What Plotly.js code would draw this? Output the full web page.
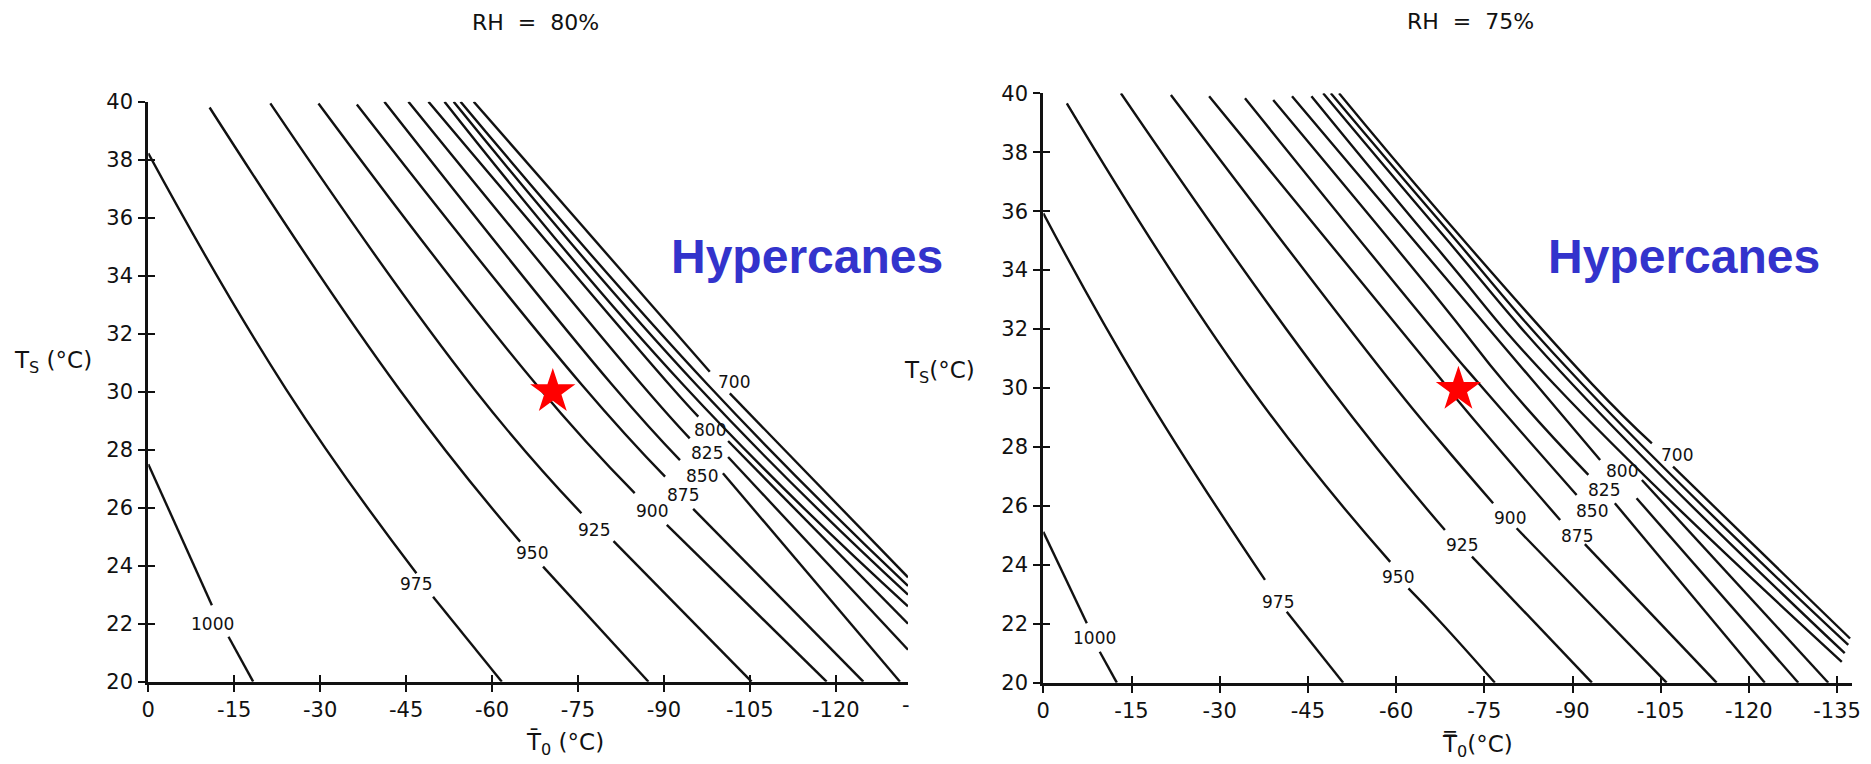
<!DOCTYPE html>
<html>
<head>
<meta charset="utf-8">
<script src="https://cdn.plot.ly/plotly-3.0.1.min.js"></script>
<style>html,body{margin:0;padding:0;background:#fff;}</style>
</head>
<body>
<div id="chart" style="width:1871px;height:764px;"></div>
<script>
// ---------------- data ----------------
// contour levels (hPa)
const levels = ['1000','975','950','925','900','875','850','825','800','775','750','725','700'];

// ---- RH = 80% (left panel): T0 (x, °C) vs Ts (y, °C); null = gap for the label
const x80_1000 = [0, -11.1, null, -14.0, -18.3];
const y80_1000 = [27.5, 22.64, null, 21.55, 20];
const x80_975 = [0, -24.0, -46.8, null, -49.7, -61.7];
const y80_975 = [38.22, 30.1, 23.74, null, 22.93, 20];
const x80_950 = [-10.7, -43.9, -64.9, null, -68.9, -87.3];
const y80_950 = [39.8, 30.06, 24.83, null, 23.97, 20];
const x80_925 = [-21.3, -57.0, -75.6, null, -81.2, -105.3];
const y80_925 = [39.94, 30.06, 25.81, null, 24.85, 20];
const x80_900 = [-29.7, -67.8, -84.9, null, -90.5, -118.4];
const y80_900 = [39.94, 30.23, 26.5, null, 25.41, 20];
const x80_875 = [-36.4, -75.7, -90.2, null, -95.1, -124.8];
const y80_875 = [39.9, 30.23, 27.07, null, 25.96, 20];
const x80_850 = [-41.2, -81.0, -92.8, null, -100.3, -131.2];
const y80_850 = [40, 30.23, 27.64, null, 27.19, 20];
const x80_825 = [-45.4, -86.2, -94.5, null, -101.2, -132.6];
const y80_825 = [40, 30.23, 28.39, null, 27.75, 21.1];
const x80_800 = [-48.9, -91.0, -96.0, null, -101.2, -132.6];
const y80_800 = [40, 30.23, 29.14, null, 28.3, 22.0];
const x80_775 = [-51.7, -93.4, -132.6];
const y80_775 = [40, 30.23, 22.6];
const x80_750 = [-53.3, -95.7, -132.6];
const y80_750 = [40, 30.23, 23.0];
const x80_725 = [-54.5, -97.7, -132.6];
const y80_725 = [40, 30.23, 23.3];
const x80_700 = [-56.8, -98.0, null, -101.5, -132.6];
const y80_700 = [40, 30.69, null, 29.94, 23.6];
// contour label positions, same order as levels (null = unlabelled)
const lab80X = [-11.2, -46.8, -66.9, -77.8, -88.0, -93.4, -96.6, -97.5, -98.0, null, null, null, -102.2];
const lab80Y = [21.99, 23.37, 24.43, 25.23, 25.89, 26.45, 27.1, 27.88, 28.68, null, null, null, 30.32];

// ---- RH = 75% (right panel)
const x75_1000 = [0, -7.4, null, -9.6, -12.5];
const y75_1000 = [25.12, 22.02, null, 21.05, 20];
const x75_975 = [0, -16.4, -37.7, null, -41.4, -51.0];
const y75_975 = [35.93, 30.1, 23.49, null, 22.41, 20];
const x75_950 = [-4.0, -34.9, -59.0, null, -62.1, -67.5, -76.8];
const y75_950 = [39.66, 30.1, 24.1, null, 23.2, 22.07, 20];
const x75_925 = [-13.2, -48.5, -68.3, null, -72.9, -93.3];
const y75_925 = [40, 30.07, 25.18, null, 24.28, 20];
const x75_900 = [-21.7, -59.8, -67.5, -76.5, null, -80.5, -106.0];
const y75_900 = [39.94, 30.04, 28.18, 26.09, null, 25.24, 20];
const x75_875 = [-28.2, -67.5, -70.9, -87.9, null, -92.1, -114.5];
const y75_875 = [39.9, 30.33, 29.48, 25.52, null, 24.7, 20];
const x75_850 = [-34.3, -67.5, -74.3, -90.7, null, -97.2, -122.7];
const y75_850 = [39.83, 31.69, 30.1, 26.37, null, 26.09, 20];
const x75_825 = [-39.1, -67.5, -78.8, -92.7, null, -100.9, -128.4];
const y75_825 = [39.77, 32.93, 30.1, 27.05, null, 26.26, 20];
const x75_800 = [-42.3, -67.5, -83.9, -94.7, null, -101.8, -133.5];
const y75_800 = [39.9, 33.95, 30.1, 27.56, null, 26.88, 20];
const x75_775 = [-45.6, -67.5, -87.0, -135.8];
const y75_775 = [39.9, 34.62, 30.1, 20.71];
const x75_750 = [-47.6, -67.5, -90.1, -136.3];
const y75_750 = [40, 35.3, 30.1, 21.0];
const x75_725 = [-48.9, -67.5, -91.8, -136.9];
const y75_725 = [40, 35.64, 30.1, 21.28];
const x75_700 = [-50.3, -67.5, -93.5, -103.5, null, -107.1, -137.2];
const y75_700 = [40, 35.93, 30.1, 28.12, null, 27.33, 21.5];
const lab75X = [-8.7, -39.9, -60.4, -71.2, -79.4, -90.8, -93.3, -95.4, -98.4, null, null, null, -107.8];
const lab75Y = [21.51, 22.75, 23.58, 24.67, 25.58, 24.98, 25.82, 26.55, 27.2, null, null, null, 27.73];

// red stars
const star80X = [-70.6], star80Y = [30.0];
const star75X = [-70.6], star75Y = [29.95];

// tick labels
const xTickVals = [0, -15, -30, -45, -60, -75, -90, -105, -120, -135];
const xTickText = ['0', '-15', '-30', '-45', '-60', '-75', '-90', '-105', '-120', '-135'];
const yTickVals = [20, 22, 24, 26, 28, 30, 32, 34, 36, 38, 40];
const yTickText = ['20', '22', '24', '26', '28', '30', '32', '34', '36', '38', '40'];

// ---------------- build figure ----------------
const curves80 = {
  '1000': [x80_1000, y80_1000], '975': [x80_975, y80_975], '950': [x80_950, y80_950],
  '925': [x80_925, y80_925], '900': [x80_900, y80_900], '875': [x80_875, y80_875],
  '850': [x80_850, y80_850], '825': [x80_825, y80_825], '800': [x80_800, y80_800],
  '775': [x80_775, y80_775], '750': [x80_750, y80_750], '725': [x80_725, y80_725],
  '700': [x80_700, y80_700]
};
const curves75 = {
  '1000': [x75_1000, y75_1000], '975': [x75_975, y75_975], '950': [x75_950, y75_950],
  '925': [x75_925, y75_925], '900': [x75_900, y75_900], '875': [x75_875, y75_875],
  '850': [x75_850, y75_850], '825': [x75_825, y75_825], '800': [x75_800, y75_800],
  '775': [x75_775, y75_775], '750': [x75_750, y75_750], '725': [x75_725, y75_725],
  '700': [x75_700, y75_700]
};

const INK = '#111111';
const traces = [];
function addCurves(curves, xa, ya) {
  levels.forEach(function (lv) {
    traces.push({
      type: 'scatter', mode: 'lines', x: curves[lv][0], y: curves[lv][1],
      xaxis: xa, yaxis: ya, connectgaps: false, showlegend: false, hoverinfo: 'skip',
      line: { color: INK, width: 2.4, shape: 'spline', smoothing: 1.3 }
    });
  });
}
addCurves(curves80, 'x', 'y');
addCurves(curves75, 'x2', 'y2');

traces.push({ type: 'scatter', mode: 'markers', x: star80X, y: star80Y, xaxis: 'x', yaxis: 'y',
  showlegend: false, cliponaxis: false,
  marker: { symbol: 'star', size: 34, color: '#ff0000', line: { width: 0 } } });
traces.push({ type: 'scatter', mode: 'markers', x: star75X, y: star75Y, xaxis: 'x2', yaxis: 'y2',
  showlegend: false, cliponaxis: false,
  marker: { symbol: 'star', size: 34, color: '#ff0000', line: { width: 0 } } });

// dummy traces so the overlay (inside-tick) axes are drawn
traces.push({ type: 'scatter', mode: 'lines', x: [], y: [], xaxis: 'x3', yaxis: 'y3', showlegend: false });
traces.push({ type: 'scatter', mode: 'lines', x: [], y: [], xaxis: 'x4', yaxis: 'y4', showlegend: false });

const W = 1871, H = 764;
const tickFont = { family: 'DejaVu Sans', size: 21, color: INK };

function xAxis(domain, range, anchor) {
  return {
    domain: domain, range: range, anchor: anchor, showgrid: false, zeroline: false,
    showline: true, linecolor: INK, linewidth: 3,
    ticks: 'outside', ticklen: 7, tickwidth: 2, tickcolor: INK,
    tickmode: 'array', tickvals: xTickVals, ticktext: xTickText,
    tickfont: tickFont, ticklabelstandoff: 0, fixedrange: true
  };
}
function yAxis(domain, anchor) {
  return {
    domain: domain, range: [20, 40], anchor: anchor, showgrid: false, zeroline: false,
    showline: true, linecolor: INK, linewidth: 3,
    ticks: 'outside', ticklen: 7, tickwidth: 2, tickcolor: INK,
    tickmode: 'array', tickvals: yTickVals, ticktext: yTickText,
    tickfont: tickFont, ticklabelstandoff: 1, fixedrange: true
  };
}
function overlayX(base, range, anchor) {
  return { overlaying: base, range: range, anchor: anchor, showgrid: false, zeroline: false,
    showline: false, ticks: 'inside', ticklen: 7, tickwidth: 2, tickcolor: INK,
    tickmode: 'array', tickvals: xTickVals, showticklabels: false, fixedrange: true };
}
function overlayY(base, anchor) {
  return { overlaying: base, range: [20, 40], anchor: anchor, showgrid: false, zeroline: false,
    showline: false, ticks: 'inside', ticklen: 7, tickwidth: 2, tickcolor: INK,
    tickmode: 'array', tickvals: yTickVals, showticklabels: false, fixedrange: true };
}

const range80 = [0, -132.6];
const range75 = [0, -137.5];

const annotations = [];
function addLabels(lx, ly, xr, yr) {
  levels.forEach(function (lv, i) {
    if (lx[i] === null) return;
    annotations.push({ x: lx[i], y: ly[i], xref: xr, yref: yr, text: lv, showarrow: false,
      borderpad: 0, font: { family: 'DejaVu Sans', size: 17, color: INK } });
  });
}
addLabels(lab80X, lab80Y, 'x', 'y');
addLabels(lab75X, lab75Y, 'x2', 'y2');

function paperText(px, py, text, font, xanchor) {
  annotations.push({ x: px / W, y: 1 - py / H, xref: 'paper', yref: 'paper', text: text,
    showarrow: false, xanchor: xanchor || 'center', yanchor: 'middle', font: font });
}
const titleFont = { family: 'DejaVu Sans', size: 22, color: INK };
const labFont = { family: 'DejaVu Sans', size: 23, color: INK };
paperText(535, 23, 'RH  =  80%', titleFont);
paperText(1470, 21, 'RH  =  75%', titleFont);
paperText(53, 362, 'T<sub>S</sub> (°C)', labFont);
paperText(939, 372, 'T<sub>S</sub>(°C)', labFont);
paperText(565, 743, 'T\u0304<sub>0</sub> (°C)', labFont);
paperText(1477, 746, 'T\u033F<sub>0</sub>(°C)', labFont);
// clipped "-135" label at the cut edge of the left panel
paperText(906, 705, '-', tickFont);
const hyperFont = { family: 'Liberation Sans, Arial, sans-serif', size: 48, color: '#3333cc', weight: 'bold' };
paperText(807, 256, '<b>Hypercanes</b>', hyperFont);
paperText(1684, 256, '<b>Hypercanes</b>', hyperFont);

const layout = {
  width: W, height: H, margin: { l: 0, r: 0, t: 0, b: 0 },
  paper_bgcolor: '#ffffff', plot_bgcolor: '#ffffff', showlegend: false,
  xaxis: xAxis([148.3 / W, 908 / W], range80, 'y'),
  yaxis: yAxis([1 - 681.7 / H, 1 - 101.7 / H], 'x'),
  xaxis2: xAxis([1043.3 / W, (1043.3 + 137.5 * 5.88) / W], range75, 'y2'),
  yaxis2: yAxis([1 - 682.7 / H, 1 - 93.3 / H], 'x2'),
  xaxis3: overlayX('x', range80, 'y'),
  yaxis3: overlayY('y', 'x'),
  xaxis4: overlayX('x2', range75, 'y2'),
  yaxis4: overlayY('y2', 'x2'),
  annotations: annotations
};

Plotly.newPlot('chart', traces, layout, { displayModeBar: false, staticPlot: true });
</script>
</body>
</html>
